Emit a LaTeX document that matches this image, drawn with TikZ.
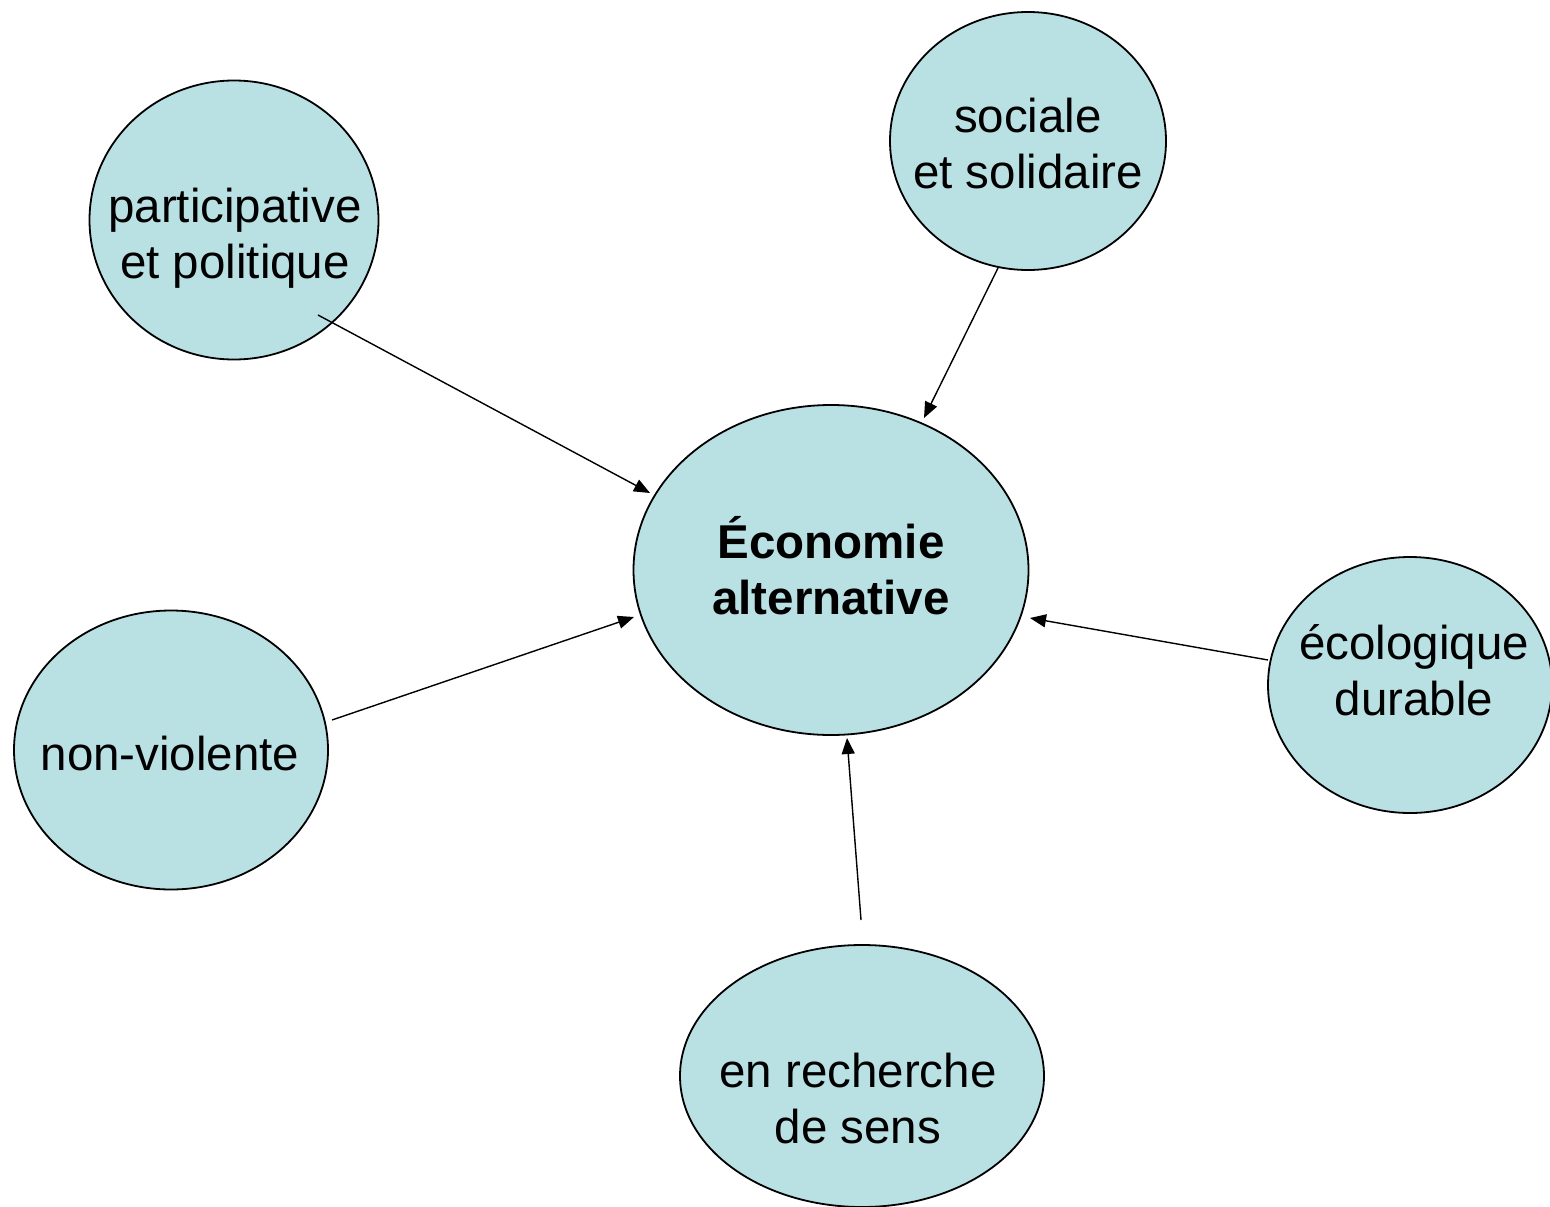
\documentclass[tikz,border=0pt]{standalone}
\usepackage{fontspec}
\setmainfont{Liberation Sans}
\usetikzlibrary{shapes.geometric,arrows.meta}
\definecolor{bubble}{RGB}{185,224,227}
\begin{document}
\begin{tikzpicture}[x=1pt,y=-1pt,
  bub/.style={ellipse,draw=black,line width=1.8pt,fill=bubble,inner sep=0pt},
  lbl/.style={align=center,anchor=base,font=\fontsize{47.5}{56}\selectfont},
  link/.style={line width=1.4pt,-{Triangle[length=16pt,width=13pt]}}]
\useasboundingbox (0,0) rectangle (1550,1207);
% bubbles
\node[bub,minimum width=395pt,minimum height=330pt] (eco) at (831,570) {};
\node[bub,minimum width=289pt,minimum height=279pt] (part) at (234,220) {};
\node[bub,minimum width=276pt,minimum height=258pt] (soc) at (1028,141) {};
\node[bub,minimum width=314pt,minimum height=279pt] (nonv) at (171,750) {};
\node[bub,minimum width=284pt,minimum height=256pt] (ecol) at (1410,685) {};
\node[bub,minimum width=364pt,minimum height=262pt] (rech) at (862,1076) {};
% labels (anchor base = baseline of last line)
\node[lbl,font=\fontsize{47.5}{56}\bfseries] (teco) at (831,614) {Économie\\alternative};
\node[lbl] (tpart) at (235,278) {participative\\et politique};
\node[lbl] (tsoc) at (1028,188) {sociale\\et solidaire};
\node[lbl] (tnonv) at (170,770) {non-violente};
\node[lbl] (tecol) at (1414,715) {écologique\\durable};
\node[lbl] (trech) at (858,1143) {en recherche\\de sens};
% connector ends
\coordinate (p1) at (318,315); \coordinate (p2) at (650,493);
\coordinate (s1) at (998,268); \coordinate (s2) at (924,418);
\coordinate (n1) at (332,720); \coordinate (n2) at (634,617);
\coordinate (e1) at (1268,660); \coordinate (e2) at (1030,618);
\coordinate (r1) at (861,920); \coordinate (r2) at (847,738);
\draw[link] (p1) -- (p2);
\draw[link] (s1) -- (s2);
\draw[link] (n1) -- (n2);
\draw[link] (e1) -- (e2);
\draw[link] (r1) -- (r2);
\end{tikzpicture}
\end{document}
